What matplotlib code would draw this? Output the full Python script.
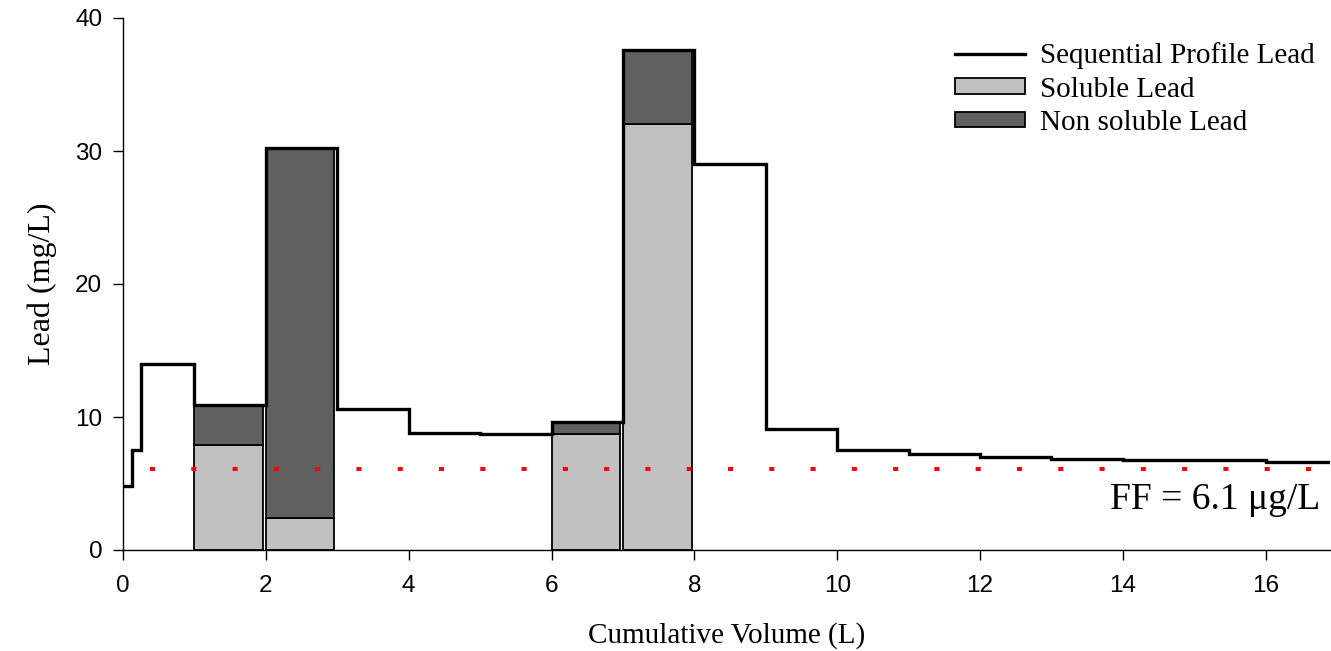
import matplotlib
matplotlib.use("Agg")
import matplotlib.pyplot as plt
from matplotlib.lines import Line2D
from matplotlib.patches import Patch

# Sequential profile: volume boundaries (L) and lead concentration per sample (mg/L)
profile_edges = [0, 0.125, 0.25, 1, 2, 3, 4, 5, 6, 7, 8, 9, 10, 11, 12, 13, 14, 15, 16, 16.9]
profile_lead = [4.8, 7.5, 14.0, 10.9, 30.2, 10.6, 8.8, 8.7, 9.6, 37.6, 29.0, 9.1, 7.5, 7.2, 7.0,
                6.85, 6.8, 6.75, 6.6]

# Fractionated samples
sample_start = [1, 2, 6, 7]
soluble_lead = [7.9, 2.4, 8.7, 32.0]
nonsoluble_lead = [3.0, 27.8, 0.9, 5.6]

ff_level = 6.1
ff_label = "FF = 6.1 \u03bcg/L"

serif = ["Liberation Serif", "DejaVu Serif"]
sans = ["Liberation Sans", "DejaVu Sans"]

fig = plt.figure(figsize=(13.31, 6.51), dpi=100)
ax = fig.add_axes([123 / 1331, 1 - 550 / 651, (1330 - 123) / 1331, (550 - 18) / 651])

bar_w = 0.96
ax.bar(sample_start, soluble_lead, width=bar_w, align="edge", color="#c0c0c0",
       edgecolor="black", linewidth=1.3, zorder=2)
ax.bar(sample_start, nonsoluble_lead, width=bar_w, align="edge", bottom=soluble_lead,
       color="#606060", edgecolor="black", linewidth=1.3, zorder=2)

ax.stairs(profile_lead, profile_edges, color="black", linewidth=2.4, zorder=4,
          baseline=None)

# First-flush reference level, dotted
ax.axhline(ff_level, xmin=0.375 / 16.9, xmax=1, color="red", linewidth=2.9,
           linestyle=(0, (1.25, 9.0)), dash_capstyle="butt", zorder=3)

ax.text(16.77, 3.8, ff_label, ha="right", va="center", fontsize=27, family=serif)

ax.set_xlim(0, 16.9)
ax.set_ylim(0, 40)
ax.set_xticks(range(0, 17, 2))
ax.set_yticks(range(0, 41, 10))
for s in ("top", "right"):
    ax.spines[s].set_visible(False)
for s in ("left", "bottom"):
    ax.spines[s].set_linewidth(1.0)
ax.tick_params(direction="out", length=7, width=1.0, labelsize=17.5)
ax.tick_params(axis="y", pad=8)
ax.tick_params(axis="x", pad=11)
for lab in ax.get_xticklabels() + ax.get_yticklabels():
    lab.set_family(sans)

ax.set_xlabel("Cumulative Volume (L)", fontsize=21, family=serif)
ax.set_ylabel("Lead (mg/L)", fontsize=23, family=serif)
ax.xaxis.set_label_coords(0.5, -0.136)
ax.yaxis.set_label_coords(-0.055, 0.5)

handles = [
    Line2D([], [], color="black", linewidth=2.4),
    Patch(facecolor="#c0c0c0", edgecolor="black", linewidth=1.3),
    Patch(facecolor="#606060", edgecolor="black", linewidth=1.3),
]
labels = ["Sequential Profile Lead", "Soluble Lead", "Non soluble Lead"]
ax.legend(handles, labels, loc="upper right", bbox_to_anchor=(1.0 + 5 / 1207, 1.0 - 4 / 532),
          frameon=False, prop={"family": serif, "size": 21}, handlelength=2.4,
          handleheight=0.45, handletextpad=0.5, labelspacing=0.25, borderaxespad=0.3)

fig.savefig("out.png", dpi=100)
